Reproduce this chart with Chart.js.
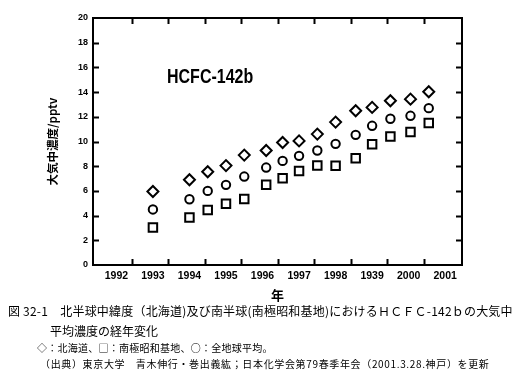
<!DOCTYPE html>
<html>
<head>
<meta charset="utf-8">
<script src="https://cdn.jsdelivr.net/npm/chart.js@4"></script>
<style>
  html, body { margin: 0; padding: 0; background: #fff; }
  #wrap { position: relative; width: 517px; height: 391px; overflow: hidden; }
  #chartBox { position: absolute; left: 0; top: 0; width: 517px; height: 305px; }
  .txt { position: absolute; white-space: pre; color: #000; font-family: "Noto Sans CJK JP", sans-serif; line-height: 1; }
  #compound { left: 167px; top: 65px; font: bold 16px "Liberation Sans", Arial, sans-serif; transform: scaleY(1.25); transform-origin: left top; }
</style>
</head>
<body>
<div id="wrap">
  <div id="chartBox"><canvas id="hcfcChart"></canvas></div>
  <div class="txt" id="compound">HCFC-142b</div>
  <div class="txt" style="left:8px; top:305px; font-size:12px; letter-spacing:0.2px;">図 32-1　北半球中緯度（北海道)及び南半球(南極昭和基地)におけるＨＣＦＣ-142ｂの大気中</div>
  <div class="txt" style="left:50px; top:325px; font-size:12px;">平均濃度の経年変化</div>
  <div class="txt" style="left:37px; top:343px; font-size:10px; letter-spacing:0.25px;">◇：北海道、□：南極昭和基地、○：全地球平均。</div>
  <div class="txt" style="left:40px; top:359px; font-size:10px; letter-spacing:0.65px;">（出典）東京大学　青木伸行・巻出義紘；日本化学会第79春季年会（2001.3.28.神戸）を更新</div>
</div>
<script>
const sampleYears = [1993.0, 1994.0, 1994.5, 1995.0, 1995.5, 1996.1, 1996.55, 1997.0, 1997.5, 1998.0, 1998.55, 1999.0, 1999.5, 2000.05, 2000.55];
const hokkaido  = [5.95, 6.9, 7.55, 8.05, 8.9, 9.27, 9.92, 10.05, 10.6, 11.57, 12.49, 12.76, 13.3, 13.43, 14.03];
const globalAvg = [4.5, 5.32, 6.0, 6.49, 7.16, 7.89, 8.43, 8.84, 9.27, 9.81, 10.54, 11.27, 11.84, 12.08, 12.7];
const syowa     = [3.03, 3.84, 4.46, 4.95, 5.35, 6.49, 7.03, 7.62, 8.05, 8.03, 8.65, 9.78, 10.41, 10.76, 11.49];

// axis labels
const xTickYears  = [1992, 1993, 1994, 1995, 1996, 1997, 1998, 1999, 2000, 2001];
const xTickLabels = ["1992", "1993", "1994", "1995", "1996", "1997", "1998", "1939", "2000", "2001"];
const xMarkYears  = [1992.42, 1993.42, 1994.42, 1995.42, 1996.42, 1997.42, 1998.42, 1999.42, 2000.42];
const yTicks = [0, 2, 4, 6, 8, 10, 12, 14, 16, 18, 20];

function toPoints(vals) {
  return sampleYears.map((yr, i) => ({ x: yr, y: vals[i] }));
}

// frame + short inward tick marks
const framePlugin = {
  id: "frame",
  afterDraw(chart) {
    const { ctx, chartArea: a, scales } = chart;
    ctx.save();
    ctx.strokeStyle = "#000";
    ctx.lineWidth = 2;
    ctx.strokeRect(a.left, a.top, a.right - a.left, a.bottom - a.top);
    ctx.beginPath();
    xMarkYears.forEach(v => {
      const px = Math.round(scales.x.getPixelForValue(v)) + 0.5;
      ctx.moveTo(px, a.top); ctx.lineTo(px, a.top + 6);
      ctx.moveTo(px, a.bottom); ctx.lineTo(px, a.bottom - 6);
    });
    yTicks.slice(1, -1).forEach(v => {
      const py = Math.round(scales.y.getPixelForValue(v)) + 0.5;
      ctx.moveTo(a.left, py); ctx.lineTo(a.left + 6, py);
      ctx.moveTo(a.right, py); ctx.lineTo(a.right - 6, py);
    });
    ctx.stroke();
    ctx.restore();
  }
};

const marker = {
  borderColor: "#000",
  backgroundColor: "#fff",
  borderWidth: 2,
  showLine: false
};

new Chart(document.getElementById("hcfcChart"), {
  type: "scatter",
  data: {
    datasets: [
      Object.assign({ label: "北海道", data: toPoints(hokkaido), pointStyle: "rectRot", pointRadius: 5.5 }, marker),
      Object.assign({ label: "全地球平均", data: toPoints(globalAvg), pointStyle: "circle", pointRadius: 4.2 }, marker),
      Object.assign({ label: "南極昭和基地", data: toPoints(syowa), pointStyle: "rect", pointRadius: 6 }, marker)
    ]
  },
  options: {
    responsive: true,
    maintainAspectRatio: false,
    animation: false,
    layout: { padding: { left: 0, top: 18, right: 55, bottom: 0 } },
    plugins: { legend: { display: false }, tooltip: { enabled: false } },
    scales: {
      x: {
        type: "linear",
        min: 1991.36,
        max: 2001.46,
        afterBuildTicks: s => { s.ticks = xTickYears.map(v => ({ value: v })); },
        afterFit: s => { s.height = 40; },
        grid: { display: false, drawTicks: false },
        border: { display: false },
        ticks: {
          padding: 5,
          color: "#000",
          font: { family: "Liberation Sans", size: 10.5, weight: "bold" },
          maxRotation: 0,
          autoSkip: false,
          callback: (v, i) => xTickLabels[i]
        },
        title: {
          display: true,
          text: "年",
          color: "#000",
          font: { family: "Noto Sans CJK JP", size: 13, weight: "bold" },
          padding: { top: 0, bottom: 2 }
        }
      },
      y: {
        min: 0,
        max: 20,
        afterBuildTicks: s => { s.ticks = yTicks.map(v => ({ value: v })); },
        afterFit: s => { s.width = 93; },
        grid: { display: false, drawTicks: false },
        border: { display: false },
        ticks: {
          padding: 5,
          color: "#000",
          font: { family: "Liberation Sans", size: 9, weight: "bold" }
        },
        title: {
          display: true,
          text: "大気中濃度/pptv",
          color: "#000",
          font: { family: "Noto Sans CJK JP", size: 11.5, weight: "bold" },
          padding: { top: 46, bottom: 0 }
        }
      }
    }
  },
  plugins: [framePlugin]
});
</script>
</body>
</html>
